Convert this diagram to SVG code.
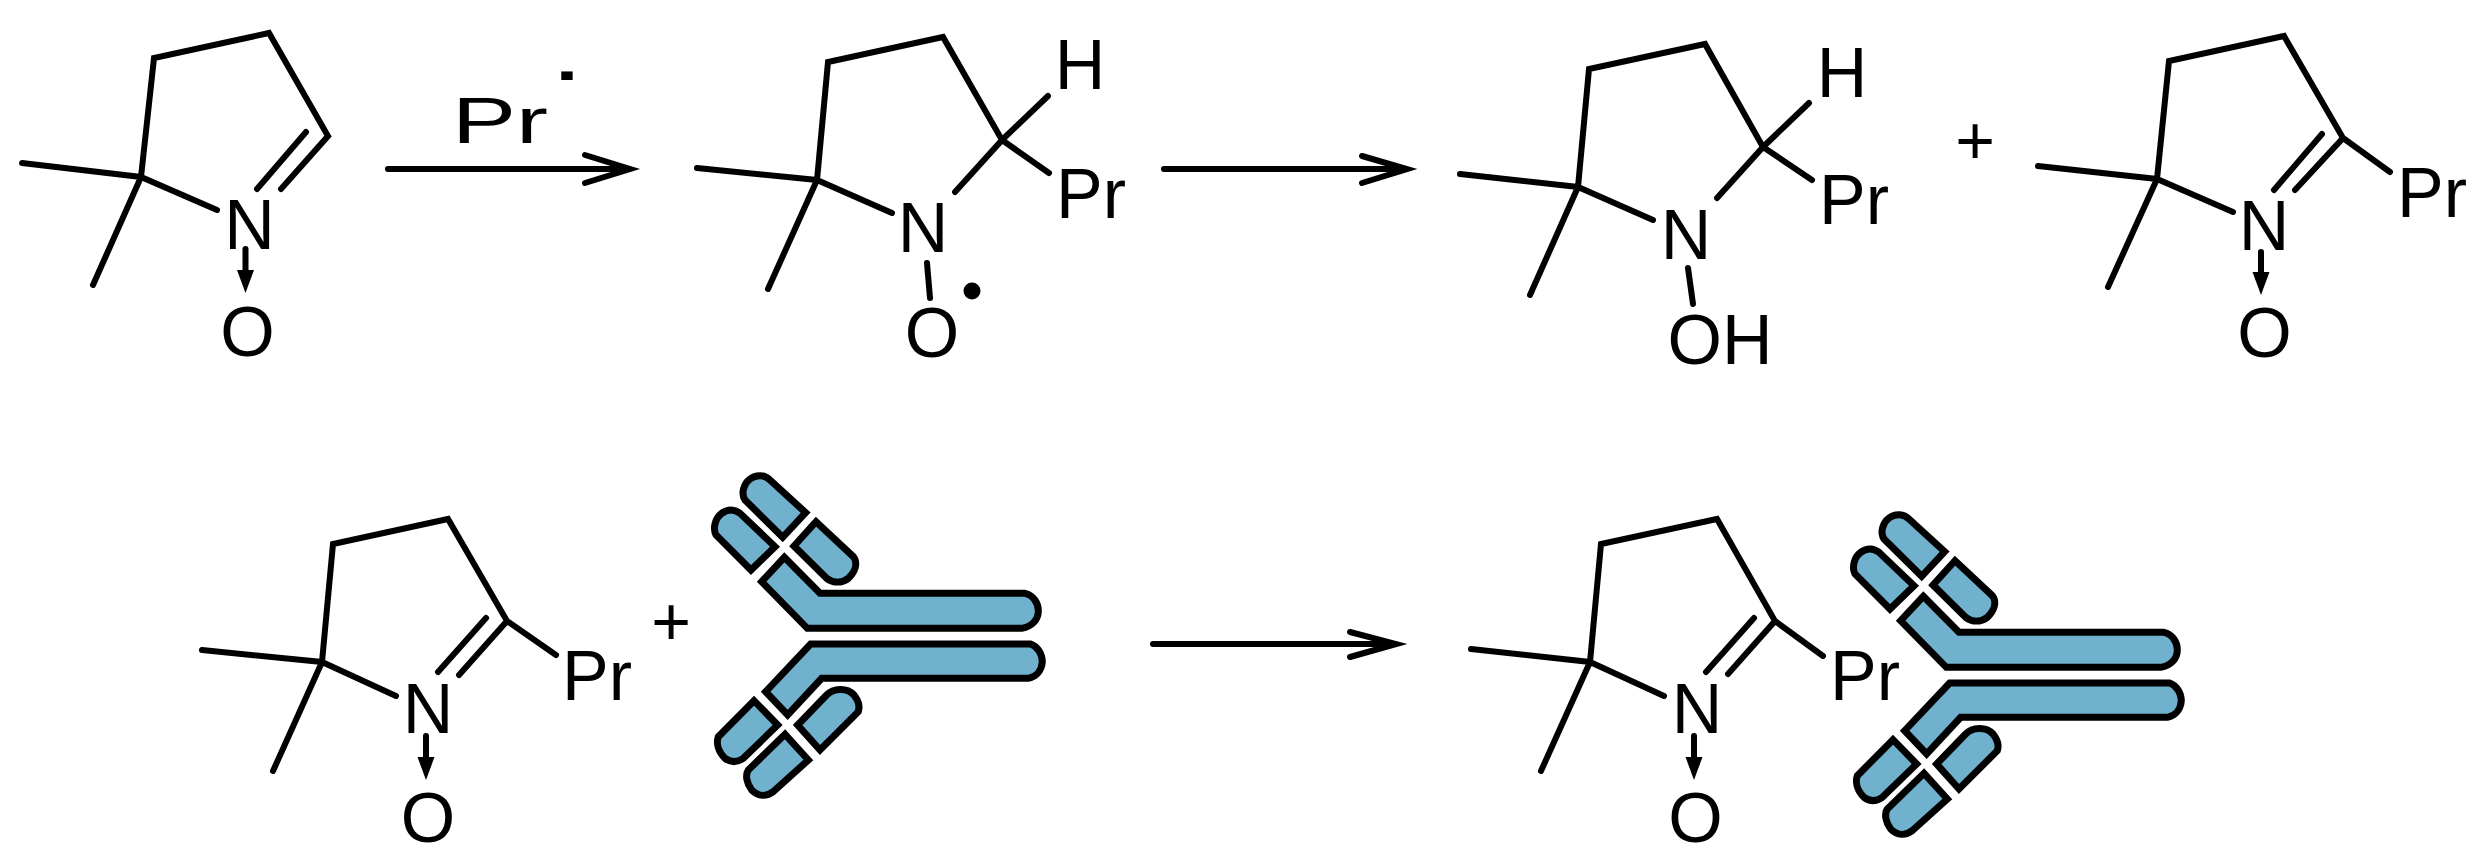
<svg xmlns="http://www.w3.org/2000/svg" xmlns:xlink="http://www.w3.org/1999/xlink" width="2492" height="866" viewBox="0 0 2492 866">
<style>
text{font-family:"Liberation Sans",Arial,sans-serif;font-size:70px;fill:#000}
.m{text-anchor:middle}
.b{fill:none;stroke:#000;stroke-width:6;stroke-linecap:round;stroke-linejoin:miter}
.ab{fill:#70b1ce;stroke:#000;stroke-width:21;stroke-linejoin:miter}
.tip{fill:#000;stroke:none}
</style>
<defs>
<g id="antibody" transform="translate(650 450) scale(.33333)">
<path class="ab" d="M403,322 L510,430 H1125 C1150,435 1165,460 1165,482 C1165,510 1145,530 1115,535 H472 L335,395 Z"/>
<path class="ab" d="M482,582 H1142 C1165,590 1177,615 1177,635 C1175,660 1160,680 1135,685 H515 L413,795 L347,725 Z"/>
<path class="ab" d="M467,188 L398,262 L285,150 C272,130 282,100 300,87 C320,72 345,75 360,90 Z"/>
<path class="ab" d="M375,290 L303,360 L198,255 C188,235 195,205 215,190 C235,175 255,178 270,190 Z"/>
<path class="ab" d="M432,288 L498,215 L610,320 C625,340 615,365 595,385 C575,400 550,400 530,385 Z"/>
<path class="ab" d="M443,825 L530,735 C550,715 590,712 612,735 C628,755 630,770 625,785 L510,900 Z"/>
<path class="ab" d="M383,825 L312,752 L205,860 C198,880 205,905 225,925 C245,940 265,935 280,925 Z"/>
<path class="ab" d="M475,930 L405,853 L295,960 C285,975 290,1000 305,1020 C325,1040 350,1040 370,1025 Z"/>
</g>
</defs>
<rect width="2492" height="866" fill="#fff"/>
<g id="connectors">
<path class="b" d="M388,169 H628 M585,155 L630,169 L585,183"/>
<path class="b" d="M1164,169 H1405 M1362,156 L1407,169 L1362,183"/>
<path class="b" d="M1153,644 H1394 M1350,632 L1396,644 L1350,657"/>
</g>
<g id="mol1">
<path class="b" d="M141,177 L154,58 L269,33 L328,136 L281,189 M306,132 L257,189 M22,163 L141,177 L217,210 M141,177 L93,285"/>
<path class="b" d="M245.5,249 V272"/><path class="tip" d="M237,270 H254 L245.5,293 Z"/>
<text class="m" x="249.500" y="249">N</text><text class="m" x="247.500" y="356">O</text>
</g>
<g id="reagent">
<text transform="translate(452 143) scale(1.5 1)" style="font-size:64px">Pr</text>
<text transform="translate(547 97) scale(1.5 1)" style="font-size:80px">·</text>
</g>
<g id="mol2">
<path class="b" d="M817,180 L828,62 L943,37 L1002,140 L955,192 M1002,140 L1048,96 M1002,140 L1049,173 M697,168 L817,180 L892,213 M817,180 L768,289 M927,263 L930,298"/>
<text class="m" x="1080" y="89">H</text><text x="1056" y="218">Pr</text><text class="m" x="923" y="252">N</text><text class="m" x="932" y="357">O</text>
<circle cx="972" cy="291" r="8.500"/>
</g>
<g id="mol3">
<path class="b" d="M1578,187 L1589,69 L1705,44 L1763,147 L1717,198 M1763,147 L1809,103 M1763,147 L1812,180 M1460,174 L1578,187 L1653,220 M1578,187 L1530,295 M1688,268 L1693,304"/>
<text class="m" x="1842" y="97">H</text><text x="1819" y="224">Pr</text><text class="m" x="1686" y="259">N</text><text class="m" x="1720" y="364">OH</text>
</g>
<g id="plus1"><text class="m" x="1975" y="164" style="font-size:68px">+</text></g>
<g id="mol4">
<path class="b" d="M2157,179 L2169,61 L2284,36 L2343,138 L2295,190 M2322,134 L2274,190 M2343,138 L2390,172 M2038,166 L2157,179 L2233,212 M2157,179 L2108,287"/>
<path class="b" d="M2261,252 V275"/><path class="tip" d="M2252.500,272 H2269.500 L2261,295 Z"/>
<text x="2397" y="217">Pr</text><text class="m" x="2264" y="250">N</text><text class="m" x="2264.500" y="357">O</text>
</g>
<g id="mol5">
<path class="b" d="M322,662 L333,544 L448,519 L507,621 L459,675 M486,618 L438,672 M507,621 L556,655 M202,650 L322,662 L396,696 M322,662 L273,771"/>
<path class="b" d="M426,736 V759"/><path class="tip" d="M417.500,757 H434.500 L426,780 Z"/>
<text x="562" y="700">Pr</text><text class="m" x="428" y="733">N</text><text class="m" x="428" y="842">O</text>
</g>
<g id="plus2"><text class="m" x="671" y="645" style="font-size:68px">+</text></g>
<g id="antibody1"><use xlink:href="#antibody" href="#antibody"/></g>
<g id="mol6">
<path class="b" d="M1590,662 L1601,544 L1717,519 L1775,621 L1728,674 M1754,618 L1706,672 M1775,621 L1823,656 M1471,649 L1590,662 L1664,696 M1590,662 L1541,771"/>
<path class="b" d="M1694,736 V759"/><path class="tip" d="M1685.500,757 H1702.500 L1694,780 Z"/>
<text x="1830" y="700">Pr</text><text class="m" x="1697" y="733">N</text><text class="m" x="1695.500" y="842">O</text>
</g>
<g id="antibody2"><use xlink:href="#antibody" href="#antibody" transform="translate(1139 39)"/></g>
</svg>
